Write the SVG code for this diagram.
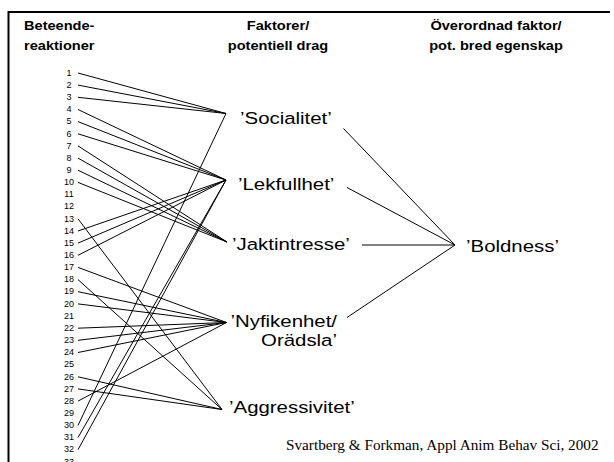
<svg xmlns="http://www.w3.org/2000/svg" width="614" height="462" viewBox="0 0 614 462">
<style>
text{font-family:"Liberation Sans",Arial,sans-serif;fill:#000}
.num{font-size:9px;text-anchor:middle}
.hdr{font-size:13.5px;font-weight:bold}
.mid{text-anchor:middle}
.lbl{font-size:17px}
.ftr{font-family:"Liberation Serif","Times New Roman",serif;font-size:14px}
.c line{stroke:#000;stroke-width:1;fill:none}
.frame{stroke:#000;stroke-width:2;fill:none}
</style>
<rect width="614" height="462" fill="#fff"/>
<path class="frame" d="M8.5,462 V12 H610"/>
<g id="headers">
<text class="hdr" transform="translate(24,30) scale(1.08,1)">Beteende-</text>
<text class="hdr" transform="translate(24,50) scale(1.08,1)">reaktioner</text>
<text class="hdr mid" transform="translate(278,30) scale(1.08,1)">Faktorer/</text>
<text class="hdr mid" transform="translate(278,50) scale(1.08,1)">potentiell drag</text>
<text class="hdr mid" transform="translate(496,30) scale(1.08,1)">Överordnad faktor/</text>
<text class="hdr mid" transform="translate(496,50) scale(1.08,1)">pot. bred egenskap</text>
</g>
<g id="connectors" class="c">
<line x1="78" y1="73" x2="226" y2="113.5"/>
<line x1="78" y1="85.1" x2="226" y2="113.5"/>
<line x1="78" y1="97.3" x2="226" y2="113.5"/>
<line x1="78" y1="425.4" x2="226" y2="113.5"/>
<line x1="78" y1="109.5" x2="226" y2="180"/>
<line x1="78" y1="121.6" x2="226" y2="180"/>
<line x1="78" y1="133.8" x2="226" y2="180"/>
<line x1="78" y1="231" x2="226" y2="180"/>
<line x1="78" y1="243.1" x2="226" y2="180"/>
<line x1="78" y1="255.3" x2="226" y2="180"/>
<line x1="78" y1="437.5" x2="226" y2="180"/>
<line x1="78" y1="449.7" x2="226" y2="180"/>
<line x1="78" y1="145.9" x2="227" y2="242"/>
<line x1="78" y1="158.1" x2="227" y2="242"/>
<line x1="78" y1="170.2" x2="227" y2="242"/>
<line x1="78" y1="182.4" x2="227" y2="242"/>
<line x1="78" y1="267.4" x2="226.5" y2="322.5"/>
<line x1="78" y1="291.7" x2="226.5" y2="322.5"/>
<line x1="78" y1="303.9" x2="226.5" y2="322.5"/>
<line x1="78" y1="328.2" x2="226.5" y2="322.5"/>
<line x1="78" y1="340.3" x2="226.5" y2="322.5"/>
<line x1="78" y1="352.5" x2="226.5" y2="322.5"/>
<line x1="78" y1="401.1" x2="226.5" y2="322.5"/>
<line x1="78" y1="218.8" x2="222" y2="409.5"/>
<line x1="78" y1="279.6" x2="222" y2="409.5"/>
<line x1="78" y1="376.8" x2="222" y2="409.5"/>
<line x1="78" y1="388.9" x2="222" y2="409.5"/>
<line x1="343.5" y1="128.5" x2="455" y2="245"/>
<line x1="347" y1="187.5" x2="455" y2="245"/>
<line x1="362" y1="245" x2="455" y2="245"/>
<line x1="347" y1="317.5" x2="455" y2="245"/>
</g>
<g id="items">
<g id="n1"><text class="num" x="69" y="75.7">1</text></g>
<g id="n2"><text class="num" x="69" y="87.8">2</text></g>
<g id="n3"><text class="num" x="69" y="100">3</text></g>
<g id="n4"><text class="num" x="69" y="112.2">4</text></g>
<g id="n5"><text class="num" x="69" y="124.3">5</text></g>
<g id="n6"><text class="num" x="69" y="136.5">6</text></g>
<g id="n7"><text class="num" x="69" y="148.6">7</text></g>
<g id="n8"><text class="num" x="69" y="160.8">8</text></g>
<g id="n9"><text class="num" x="69" y="172.9">9</text></g>
<g id="n10"><text class="num" x="69" y="185.1">10</text></g>
<g id="n11"><text class="num" x="69" y="197.2">11</text></g>
<g id="n12"><text class="num" x="69" y="209.4">12</text></g>
<g id="n13"><text class="num" x="69" y="221.5">13</text></g>
<g id="n14"><text class="num" x="69" y="233.7">14</text></g>
<g id="n15"><text class="num" x="69" y="245.8">15</text></g>
<g id="n16"><text class="num" x="69" y="258">16</text></g>
<g id="n17"><text class="num" x="69" y="270.1">17</text></g>
<g id="n18"><text class="num" x="69" y="282.3">18</text></g>
<g id="n19"><text class="num" x="69" y="294.4">19</text></g>
<g id="n20"><text class="num" x="69" y="306.6">20</text></g>
<g id="n21"><text class="num" x="69" y="318.7">21</text></g>
<g id="n22"><text class="num" x="69" y="330.9">22</text></g>
<g id="n23"><text class="num" x="69" y="343">23</text></g>
<g id="n24"><text class="num" x="69" y="355.2">24</text></g>
<g id="n25"><text class="num" x="69" y="367.3">25</text></g>
<g id="n26"><text class="num" x="69" y="379.5">26</text></g>
<g id="n27"><text class="num" x="69" y="391.6">27</text></g>
<g id="n28"><text class="num" x="69" y="403.8">28</text></g>
<g id="n29"><text class="num" x="69" y="415.9">29</text></g>
<g id="n30"><text class="num" x="69" y="428.1">30</text></g>
<g id="n31"><text class="num" x="69" y="440.2">31</text></g>
<g id="n32"><text class="num" x="69" y="452.4">32</text></g>
<g id="n33"><text class="num" x="69" y="464.5">33</text></g>
</g>
<g id="socialitet"><text class="lbl" transform="translate(240,123.5) scale(1.2,1)">’Socialitet’</text></g>
<g id="lekfullhet"><text class="lbl" transform="translate(238,190) scale(1.2,1)">’Lekfullhet’</text></g>
<g id="jaktintresse"><text class="lbl" transform="translate(232,250) scale(1.2,1)">’Jaktintresse’</text></g>
<g id="nyfikenhet"><text class="lbl" text-anchor="end" transform="translate(337,327) scale(1.2,1)">’Nyfikenhet/</text><text class="lbl" text-anchor="end" transform="translate(337,346) scale(1.2,1)">Orädsla’</text></g>
<g id="aggressivitet"><text class="lbl" transform="translate(229,413) scale(1.2,1)">’Aggressivitet’</text></g>
<g id="boldness"><text class="lbl" transform="translate(466,251.5) scale(1.2,1)">’Boldness’</text></g>
<g id="source"><text class="ftr" transform="translate(286,450) scale(1.09,1)">Svartberg &amp; Forkman, Appl Anim Behav Sci, 2002</text></g>
</svg>
